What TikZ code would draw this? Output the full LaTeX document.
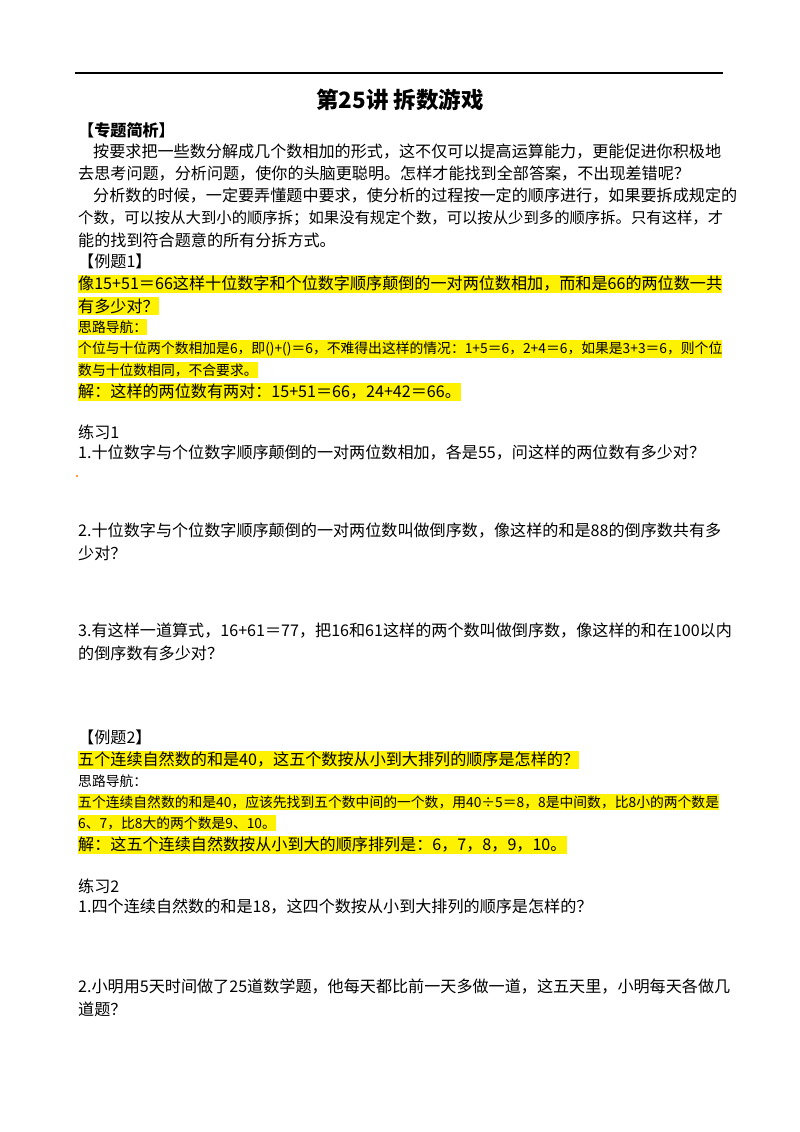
\documentclass[tikz,border=0pt]{standalone}
\usepackage{fontspec}
\newfontfamily\cjk{Noto Sans CJK SC}
\begin{document}
\begin{tikzpicture}[x=1pt,y=-1pt,
  t/.style={anchor=west, inner xsep=0pt, inner ysep=1.5pt, font=\cjk\fontsize{16.1}{17}\selectfont},
  s/.style={t, font=\cjk\fontsize{13.8}{15}\selectfont},
  hl/.style={t, fill=yellow},
  hs/.style={s, fill=yellow}]
\useasboundingbox[fill=white] (0,0) rectangle (800,1132);
\coordinate (r1) at (75,73); \coordinate (r2) at (723,73);
\draw[line width=1pt] (r1) -- (r2);
\node[font=\cjk\bfseries\fontsize{22.5}{24}\selectfont] (title) at (400,100) {第25讲\ 拆数游戏};
\node[t,font=\cjk\bfseries\fontsize{16.1}{17}\selectfont] (h1) at (78,130) {【专题简析】};
\node[t] (p1) at (93,152) {按要求把一些数分解成几个数相加的形式，这不仅可以提高运算能力，更能促进你积极地};
\node[t] (p2) at (78,174) {去思考问题，分析问题，使你的头脑更聪明。怎样才能找到全部答案，不出现差错呢？};
\node[t] (p3) at (93,196) {分析数的时候，一定要弄懂题中要求，使分析的过程按一定的顺序进行，如果要拆成规定的};
\node[t] (p4) at (78,218) {\resizebox{645pt}{!}{个数，可以按从大到小的顺序拆；如果没有规定个数，可以按从少到多的顺序拆。只有这样，才}};
\node[t] (p5) at (78,240) {能的找到符合题意的所有分拆方式。};
\node[t] (e1) at (78,261) {【例题1】};
\node[hl] (e1a) at (78,284) {像15+51＝66这样十位数字和个位数字顺序颠倒的一对两位数相加，而和是66的两位数一共};
\node[hl] (e1b) at (78,306) {有多少对？};
\node[hs] (e1c) at (78,327) {思路导航：};
\node[hs] (e1d) at (78,349) {个位与十位两个数相加是6，即()+()＝6，不难得出这样的情况：1+5＝6，2+4＝6，如果是3+3＝6，则个位};
\node[hs] (e1e) at (78,370) {数与十位数相同，不合要求。};
\node[hl] (e1f) at (78,392) {解：这样的两位数有两对：15+51＝66，24+42＝66。};
\node[t] (x1) at (78,432) {练习1};
\node[t] (x1a) at (78,453) {1.十位数字与个位数字顺序颠倒的一对两位数相加，各是55，问这样的两位数有多少对？};
\node[circle,fill=orange,inner sep=0.8pt] (dot) at (77,476) {};
\node[t] (x1b) at (78,531) {2.十位数字与个位数字顺序颠倒的一对两位数叫做倒序数，像这样的和是88的倒序数共有多};
\node[t] (x1c) at (78,553) {少对？};
\node[t] (x1d) at (78,631) {3.有这样一道算式，16+61＝77，把16和61这样的两个数叫做倒序数，像这样的和在100以内};
\node[t] (x1e) at (78,653) {的倒序数有多少对？};
\node[t] (e2) at (78,737) {【例题2】};
\node[hl] (e2a) at (78,760) {五个连续自然数的和是40，这五个数按从小到大排列的顺序是怎样的？};
\node[s] (e2b) at (78,781) {思路导航：};
\node[hs] (e2c) at (78,802) {五个连续自然数的和是40，应该先找到五个数中间的一个数，用40÷5＝8，8是中间数，比8小的两个数是};
\node[hs] (e2d) at (78,823) {6、7，比8大的两个数是9、10。};
\node[hl] (e2e) at (78,845) {解：这五个连续自然数按从小到大的顺序排列是：6，7，8，9，10。};
\node[t] (x2) at (78,886) {练习2};
\node[t] (x2a) at (78,907) {1.四个连续自然数的和是18，这四个数按从小到大排列的顺序是怎样的？};
\node[t] (x2b) at (78,987) {2.小明用5天时间做了25道数学题，他每天都比前一天多做一道，这五天里，小明每天各做几};
\node[t] (x2c) at (78,1009) {道题？};
\end{tikzpicture}
\end{document}
